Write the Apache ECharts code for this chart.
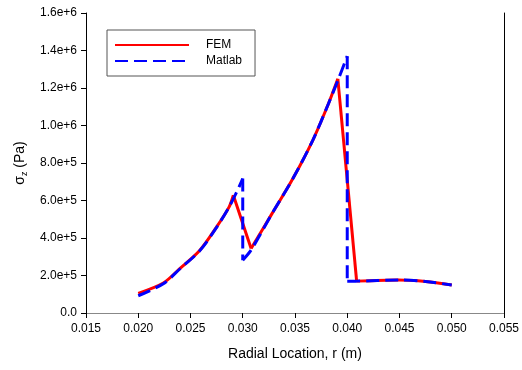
<!DOCTYPE html>
<html>
<head>
<meta charset="utf-8">
<script src="https://cdn.jsdelivr.net/npm/echarts@6/dist/echarts.min.js"></script>
<style>
  html, body { margin: 0; padding: 0; background: #fff; }
  #chart { width: 522px; height: 370px; }
</style>
</head>
<body>
<div id="chart"></div>
<script>
// radial location (m) and axial stress (Pa)
const femR = [0.0200, 0.0224, 0.0240, 0.0259, 0.0275, 0.0287, 0.0291, 0.0308, 0.0328, 0.0348, 0.0367, 0.0382, 0.0391, 0.0409, 0.0449, 0.0475, 0.0500]
const femS = [1.05e5, 1.60e5, 2.38e5, 3.35e5, 4.59e5, 5.66e5, 6.28e5, 3.44e5, 5.30e5, 7.17e5, 9.21e5, 1.116e6, 1.249e6, 1.70e5, 1.76e5, 1.68e5, 1.49e5]
// indices where the FEM curve changes direction (peaks / troughs)
const femBreaks = [6, 7, 12, 13]

const matR = [0.0200, 0.0224, 0.0240, 0.0259, 0.0275, 0.0287, 0.0295, 0.0300, 0.0300, 0.0308, 0.0328, 0.0348, 0.0367, 0.0382, 0.0391, 0.0400, 0.0400, 0.0409, 0.0449, 0.0475, 0.0500]
const matS = [0.92e5, 1.56e5, 2.36e5, 3.33e5, 4.57e5, 5.66e5, 6.55e5, 7.17e5, 2.82e5, 3.36e5, 5.30e5, 7.17e5, 9.21e5, 1.116e6, 1.24e6, 1.37e6, 1.70e5, 1.70e5, 1.76e5, 1.68e5, 1.49e5]
const matBreaks = [7, 8, 15, 16]

const yTickLabels = ['0.0', '2.0e+5', '4.0e+5', '6.0e+5', '8.0e+5', '1.0e+6', '1.2e+6', '1.4e+6', '1.6e+6']
const xTickLabels = ['0.015', '0.020', '0.025', '0.030', '0.035', '0.040', '0.045', '0.050', '0.055']

const font = 'Liberation Sans, Arial, sans-serif'

// cut a curve at its breaks so the smooth parts stay smooth and the jumps stay straight
const segments = (xs, ys, breaks) => {
  const cuts = [0, ...breaks, xs.length - 1]
  const out = []
  for (let k = 0; k < cuts.length - 1; k++) {
    const pts = []
    for (let i = cuts[k]; i <= cuts[k + 1]; i++) pts.push([xs[i], ys[i]])
    out.push(pts)
  }
  return out
}

const makeSeries = (name, xs, ys, breaks, lineStyle, z) =>
  segments(xs, ys, breaks).map(pts => ({
    name,
    type: 'line',
    data: pts,
    symbol: 'none',
    smooth: pts.length > 2 ? 0.3 : false,
    lineStyle,
    itemStyle: { color: lineStyle.color },
    z
  }))

const chart = echarts.init(document.getElementById('chart'))

const hidden = {
  axisTick: { show: false },
  axisLabel: { show: false },
  splitLine: { show: false }
}

chart.setOption({
  backgroundColor: '#fff',
  animation: false,
  grid: { left: 86, right: 16, top: 13, bottom: 57 },
  legend: {
    left: 107,
    top: 30,
    orient: 'vertical',
    data: ['FEM', 'Matlab'],
    itemWidth: 74,
    itemHeight: 12,
    itemGap: 4,
    padding: [9, 13, 9, 7],
    borderColor: '#555',
    borderWidth: 1,
    itemStyle: { opacity: 0 },
    textStyle: { fontFamily: font, fontSize: 12, color: '#000', padding: [0, 0, 0, 12] }
  },
  xAxis: [
    {
      type: 'value',
      min: 0.015,
      max: 0.055,
      interval: 0.005,
      name: 'Radial Location, r (m)',
      nameLocation: 'middle',
      nameGap: 34,
      nameTextStyle: { fontFamily: font, fontSize: 14, color: '#000' },
      axisLine: { show: true, onZero: false, lineStyle: { color: '#555', width: 1 } },
      axisTick: { show: true, length: 5, lineStyle: { color: '#000' } },
      axisLabel: {
        fontFamily: font, fontSize: 12, color: '#000', margin: 10,
        formatter: v => xTickLabels[Math.round((v - 0.015) / 0.005)]
      },
      splitLine: { show: false }
    },
    {
      type: 'value', position: 'top', min: 0.015, max: 0.055,
      axisLine: { show: true, lineStyle: { color: '#888', width: 1 } },
      ...hidden
    }
  ],
  yAxis: [
    {
      type: 'value',
      min: 0,
      max: 1.6e6,
      interval: 2e5,
      name: '{s|σ}{sub|z}{s| (Pa)}',
      nameLocation: 'middle',
      nameRotate: 90,
      nameGap: 57,
      nameTextStyle: {
        fontFamily: font, color: '#000',
        rich: {
          s: { fontFamily: font, fontSize: 14, color: '#000' },
          sub: { fontFamily: font, fontSize: 9, color: '#000', padding: [8, 0, 0, 0] }
        }
      },
      axisLine: { show: true, lineStyle: { color: '#000', width: 1 } },
      axisTick: { show: true, length: 5, lineStyle: { color: '#000' } },
      axisLabel: {
        fontFamily: font, fontSize: 12, color: '#000', margin: 9,
        formatter: v => yTickLabels[Math.round(v / 2e5)]
      },
      splitLine: { show: false }
    },
    {
      type: 'value', position: 'right', min: 0, max: 1.6e6,
      axisLine: { show: true, lineStyle: { color: '#000', width: 1 } },
      ...hidden
    }
  ],
  series: [
    ...makeSeries('FEM', femR, femS, femBreaks, { color: '#ff0000', width: 3 }, 2),
    ...makeSeries('Matlab', matR, matS, matBreaks, { color: '#0000ff', width: 3, type: [13, 6] }, 3)
  ]
})
</script>
</body>
</html>
